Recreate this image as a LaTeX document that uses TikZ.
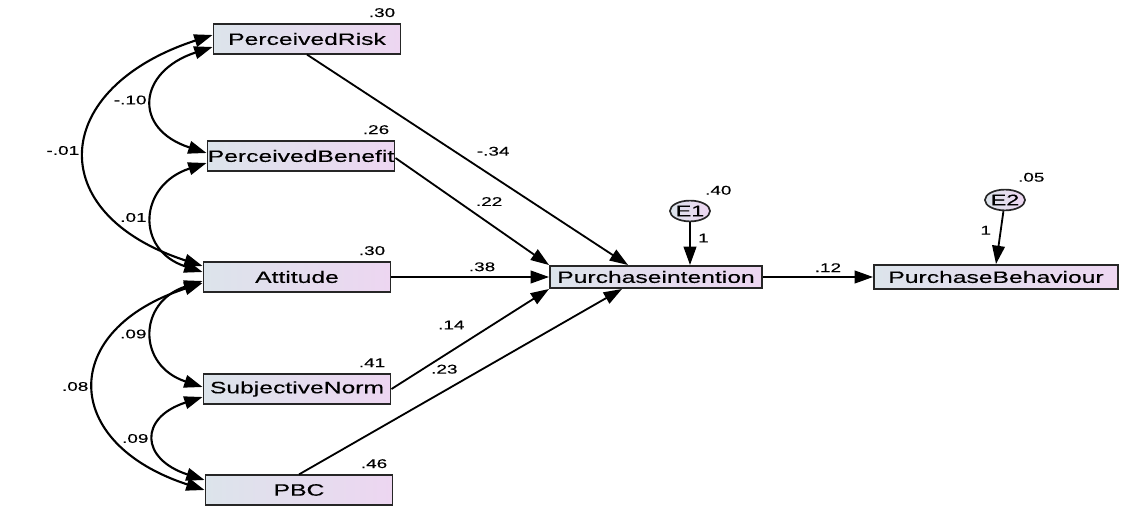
\documentclass[tikz,border=0pt]{standalone}
\usepackage{fontspec}
\newfontfamily\amos[FakeStretch=1.5,FakeBold=0.3]{Liberation Sans}
\usetikzlibrary{arrows.meta,positioning,shapes.geometric}
\definecolor{boxleft}{HTML}{DCE4EB}
\definecolor{boxright}{HTML}{EDD6F1}

\begin{document}
\begin{tikzpicture}[node distance=2cm,on grid,
    >={Triangle[length=13pt,width=9pt]},
    obs/.style={draw=black!85,line width=1.4pt,left color=boxleft,right color=boxright,
      minimum width=4.675cm,minimum height=0.73cm,inner sep=0pt,
      font=\amos\fontsize{11.7}{13}\selectfont},
    err/.style={ellipse,draw=black!85,line width=1.2pt,left color=boxleft,right color=boxright,
      minimum width=0.8cm,minimum height=0.52cm,inner sep=0pt,
      font=\amos\fontsize{11}{12}\selectfont},
    num/.style={font=\amos\fontsize{9}{10}\selectfont,inner sep=0pt},
    rsq/.style={label={[num,anchor=south east,xshift=-0.15cm,yshift=0.15cm]north east:#1}},
    reg/.style={->,line width=1.3pt},
    cov/.style={<->,line width=1.5pt}]
  \useasboundingbox (0,0) rectangle (28.05,-12.675);

  % observed variables
  \node[obs,rsq=.30] (risk)    at (7.675,-0.975)                   {PerceivedRisk};
  \node[obs,rsq=.26] (benefit) [below=2.925cm of risk,xshift=-0.15cm] {PerceivedBenefit};
  \node[obs,rsq=.30] (att)     [below=3.025cm of benefit,xshift=-0.1cm] {Attitude};
  \node[obs,rsq=.41] (sn)      [below=2.8cm of att]                {SubjectiveNorm};
  \node[obs,rsq=.46] (pbc)     [below=2.525cm of sn,xshift=0.05cm] {PBC};
  \node[obs,minimum width=5.3cm,minimum height=0.55cm] (pi) [right=8.975cm of att] {Purchaseintention};
  \node[obs,minimum width=6.1cm,minimum height=0.6cm]  (pb) [right=8.5cm of pi]    {PurchaseBehaviour};

  % error terms
  \node[err,label={[num,anchor=south west,yshift=0.2cm]north east:.40}] (e1) [above=1.65cm of pi,xshift=0.85cm] {E1};
  \node[err,label={[num,anchor=south west,xshift=-0.05cm,yshift=0.25cm]north east:.05}] (e2) [above=1.925cm of pb,xshift=0.225cm] {E2};

  \path[reg]
    (risk.south) edge node[num,pos=.58,above=0.5cm] {-.34} ([xshift=-0.7cm]pi.north)
    ([yshift=-0.05cm]benefit.east) edge node[num,pos=.61,above=0.41cm] {.22} (pi.north west)
    (att) edge node[num,pos=.575,above=0.12cm] {.38} (pi)
    (sn.east) edge node[num,pos=.38,above=0.52cm] {.14} (pi.south west)
    (pbc.north) edge node[num,pos=.45,above=0.41cm] {.23} ([xshift=-0.85cm]pi.south)
    (e1) edge node[num,pos=.37,right=0.18cm] {1} (e1 |- pi.north)
    (pi) edge node[num,pos=.59,above=0.1cm] {.12} (pb)
    (e2) edge node[num,pos=.36,left=0.22cm] {1} (pb.north);

  % covariances
  \path[cov]
    ([yshift=-0.2cm]risk.west) edge[out=198,in=162,looseness=1.89] node[num,left=0.15cm] {-.10} ([yshift=0.075cm]benefit.west)
    ([yshift=0.1cm]risk.west) edge[out=198,in=162,looseness=1.88] node[num,left=0.15cm] {-.01} ([yshift=0.275cm]att.west)
    ([yshift=-0.175cm]benefit.west) edge[out=198,in=162,looseness=1.67] node[num,left=0.15cm] {.01} ([yshift=0.125cm]att.west)
    ([yshift=-0.1cm]att.west) edge[out=198,in=162,looseness=1.66] node[num,left=0.15cm] {.09} ([yshift=0.05cm]sn.west)
    ([yshift=-0.15cm]att.west) edge[out=198,in=162,looseness=1.87] node[num,left=0.15cm] {.08} (pbc.west)
    ([yshift=-0.2cm]sn.west) edge[out=198,in=162,looseness=2.07] node[num,left=0.15cm] {.09} ([yshift=0.25cm]pbc.west);
\end{tikzpicture}
\end{document}
